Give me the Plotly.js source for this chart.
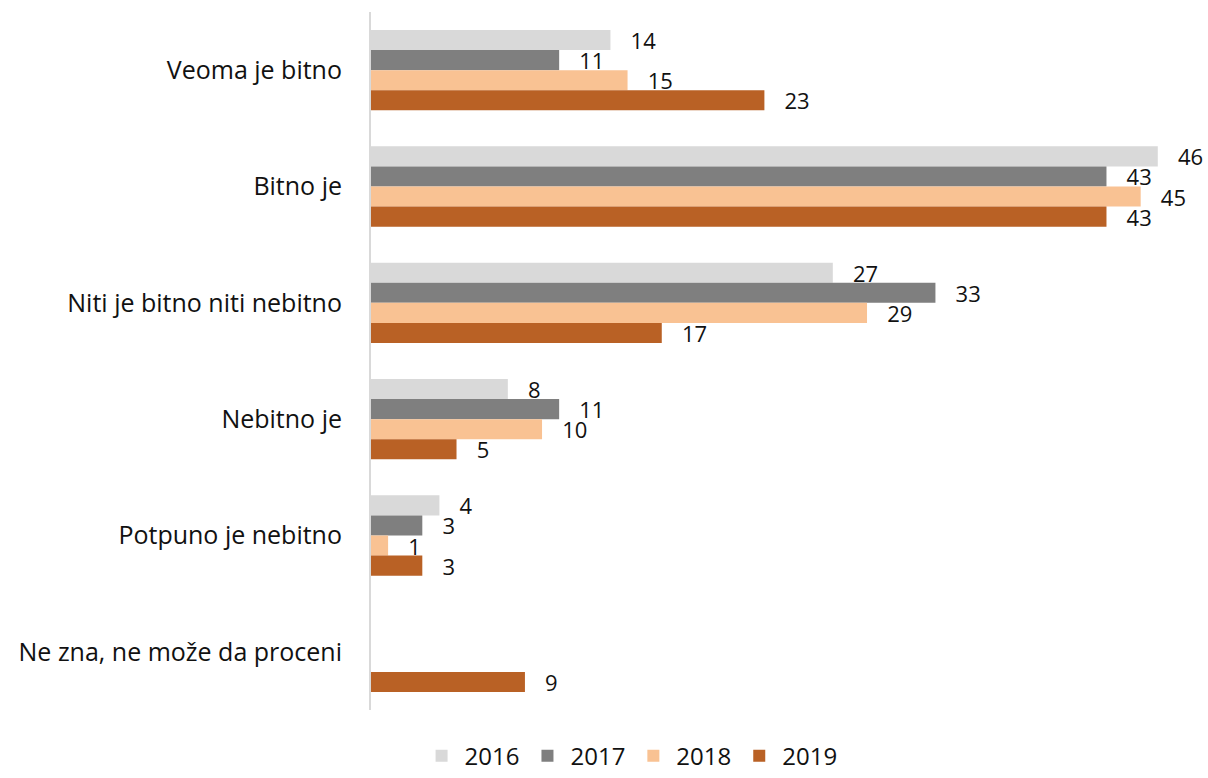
<!DOCTYPE html>
<html>
<head>
<meta charset="utf-8">
<script src="https://cdn.plot.ly/plotly-3.0.1.min.js"></script>
<style>html,body{margin:0;padding:0;background:#fff;}#chart{width:1208px;height:778px;}</style>
</head>
<body>
<div id="chart"></div>
<script>
const categories = ["Veoma je bitno", "Bitno je", "Niti je bitno niti nebitno", "Nebitno je", "Potpuno je nebitno", "Ne zna, ne može da proceni"];
const years = ["2016", "2017", "2018", "2019"];
const values2016 = [14, 46, 27, 8, 4, null];
const values2017 = [11, 43, 33, 11, 3, null];
const values2018 = [15, 45, 29, 10, 1, null];
const values2019 = [23, 43, 17, 5, 3, 9];
const colors = ["#d9d9d9", "#7f7f7f", "#f9c293", "#b96125"];

const series = [values2016, values2017, values2018, values2019];
const fontFam = "Open Sans, Lato, sans-serif";

const traces = series.map((vals, i) => ({
  type: "bar",
  orientation: "h",
  name: years[i],
  y: categories,
  x: vals,
  marker: {color: colors[i]},
  text: vals.map(v => v === null ? "" : "\u00a0\u00a0\u00a0" + v),
  textposition: "outside",
  constraintext: "none",
  cliponaxis: false,
  textfont: {family: fontFam, size: 22, color: "#111"},
  hoverinfo: "x+name"
}));

const layout = {
  width: 1208,
  height: 778,
  barmode: "group",
  bargap: 0.31,
  bargroupgap: 0,
  margin: {l: 371, r: 16, t: 12, b: 68, autoexpand: false},
  paper_bgcolor: "#fff",
  plot_bgcolor: "#fff",
  font: {family: fontFam, size: 24, color: "#111"},
  xaxis: {range: [0, 48], showticklabels: false, showgrid: false, zeroline: false, ticks: "", fixedrange: true},
  yaxis: {autorange: "reversed", showline: true, linecolor: "#d9d9d9", linewidth: 2, ticks: "", ticklabelstandoff: 22, tickfont: {family: fontFam, size: 25, color: "#111"}, showgrid: false, automargin: false},
  showlegend: true,
  legend: {orientation: "h", xref: "container", x: 0.522, xanchor: "center", yref: "container", y: 0.028, yanchor: "middle", traceorder: "normal", font: {family: fontFam, size: 24, color: "#111"}, itemwidth: 36}
};

Plotly.newPlot("chart", traces, layout, {displayModeBar: false, staticPlot: true});
</script>
</body>
</html>
